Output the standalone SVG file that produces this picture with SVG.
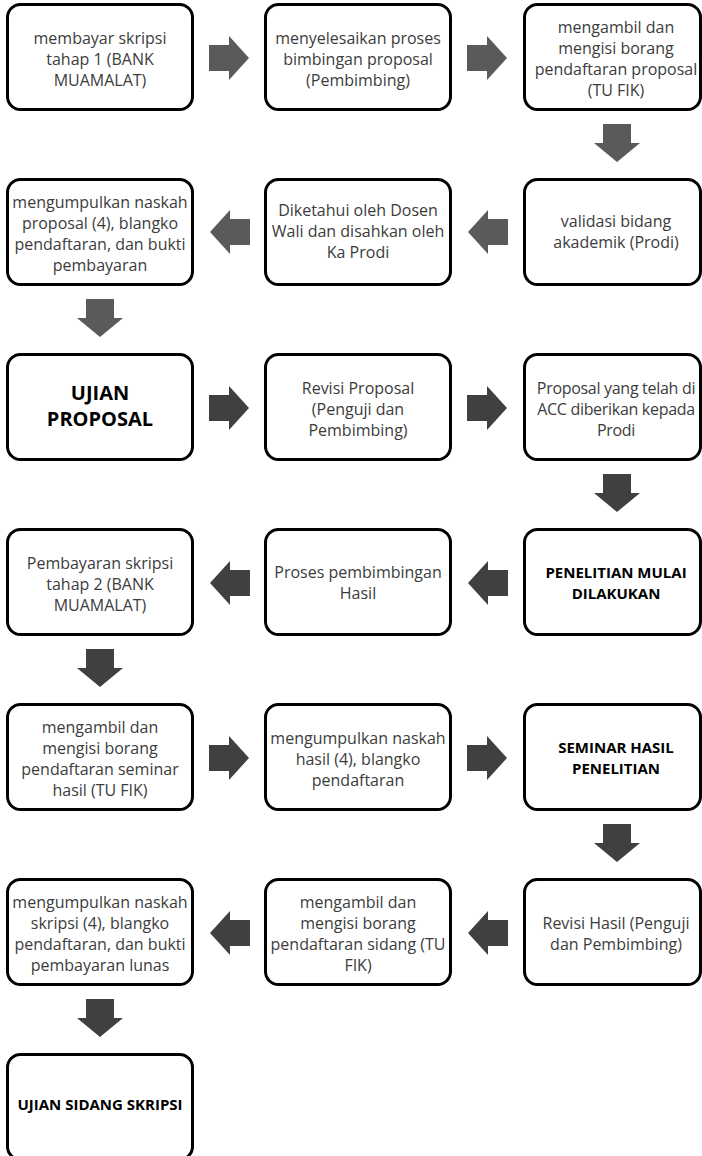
<svg xmlns="http://www.w3.org/2000/svg" xmlns:xlink="http://www.w3.org/1999/xlink" width="702" height="1156" viewBox="0 0 702 1156">
<style>
.box{fill:#fff;stroke:#000;stroke-width:3}
.t{font-family:"Open Sans","Liberation Sans",sans-serif;font-size:16px;fill:#3c3c3c;text-anchor:middle}
.b{font-family:"Open Sans","Liberation Sans",sans-serif;font-size:15px;font-weight:bold;fill:#000;text-anchor:middle}
.bb{font-family:"Open Sans","Liberation Sans",sans-serif;font-size:20px;font-weight:bold;fill:#000;text-anchor:middle}
.tight{letter-spacing:-0.3px}
.a1{fill:#5a5a5a}
.a2{fill:#404040}
</style>
<defs>
<path id="ar" d="M-20,-13 H0 V-22 L20,0 L0,22 V13 H-20 Z"/>
<path id="al" d="M20,-13 H0 V-22 L-20,0 L0,22 V13 H20 Z"/>
<path id="ad" d="M-14,-19 H14 V0 H23 L0,19 L-23,0 H-14 Z"/>
</defs>
<g id="connectors">
<use xlink:href="#ar" class="a1" x="229" y="58"/>
<use xlink:href="#ar" class="a1" x="487" y="58"/>
<use xlink:href="#ad" class="a1" x="617" y="143"/>
<use xlink:href="#al" class="a1" x="230" y="232"/>
<use xlink:href="#al" class="a1" x="488" y="232"/>
<use xlink:href="#ad" class="a1" x="100" y="318"/>
<use xlink:href="#ar" class="a2" x="229" y="408"/>
<use xlink:href="#ar" class="a2" x="487" y="408"/>
<use xlink:href="#ad" class="a2" x="617" y="493"/>
<use xlink:href="#al" class="a2" x="230" y="583"/>
<use xlink:href="#al" class="a2" x="488" y="583"/>
<use xlink:href="#ad" class="a2" x="100" y="668"/>
<use xlink:href="#ar" class="a2" x="229" y="758"/>
<use xlink:href="#ar" class="a2" x="487" y="758"/>
<use xlink:href="#ad" class="a2" x="617" y="843"/>
<use xlink:href="#al" class="a2" x="230" y="933"/>
<use xlink:href="#al" class="a2" x="488" y="933"/>
<use xlink:href="#ad" class="a2" x="100" y="1018"/>
</g>
<g id="n1"><rect class="box" x="7.5" y="4.5" width="185" height="105" rx="13"/>
<text class="t"><tspan x="100" y="43.5">membayar skripsi</tspan><tspan x="100" y="64.5">tahap 1 (BANK</tspan><tspan x="100" y="85.5">MUAMALAT)</tspan></text></g>
<g id="n2"><rect class="box" x="265.5" y="4.5" width="185" height="105" rx="13"/>
<text class="t"><tspan x="358" y="43.5">menyelesaikan proses</tspan><tspan x="358" y="64.5">bimbingan proposal</tspan><tspan x="358" y="85.5">(Pembimbing)</tspan></text></g>
<g id="n3"><rect class="box" x="524.5" y="4.5" width="176" height="105" rx="13"/>
<text class="t"><tspan x="616" y="33">mengambil dan</tspan><tspan x="616" y="54">mengisi borang</tspan><tspan x="616" y="75">pendaftaran proposal</tspan><tspan x="616" y="96">(TU FIK)</tspan></text></g>
<g id="n4"><rect class="box" x="7.5" y="179.5" width="185" height="105" rx="13"/>
<text class="t"><tspan x="100" y="208">mengumpulkan naskah</tspan><tspan x="100" y="229">proposal (4), blangko</tspan><tspan x="100" y="250">pendaftaran, dan bukti</tspan><tspan x="100" y="271">pembayaran</tspan></text></g>
<g id="n5"><rect class="box" x="265.5" y="179.5" width="185" height="105" rx="13"/>
<text class="t"><tspan x="358" y="216">Diketahui oleh Dosen</tspan><tspan x="358" y="237">Wali dan disahkan oleh</tspan><tspan x="358" y="258">Ka Prodi</tspan></text></g>
<g id="n6"><rect class="box" x="524.5" y="179.5" width="176" height="105" rx="13"/>
<text class="t"><tspan x="616" y="227">validasi bidang</tspan><tspan x="616" y="248">akademik (Prodi)</tspan></text></g>
<g id="n7"><rect class="box" x="7.5" y="354.5" width="185" height="105" rx="13"/>
<text class="bb"><tspan x="100" y="400">UJIAN</tspan><tspan x="100" y="426">PROPOSAL</tspan></text></g>
<g id="n8"><rect class="box" x="265.5" y="354.5" width="185" height="105" rx="13"/>
<text class="t"><tspan x="358" y="393.5">Revisi Proposal</tspan><tspan x="358" y="414.5">(Penguji dan</tspan><tspan x="358" y="435.5">Pembimbing)</tspan></text></g>
<g id="n9"><rect class="box" x="524.5" y="354.5" width="176" height="105" rx="13"/>
<text class="t tight"><tspan x="616" y="393.5">Proposal yang telah di</tspan><tspan x="616" y="414.5">ACC diberikan kepada</tspan><tspan x="616" y="435.5">Prodi</tspan></text></g>
<g id="n10"><rect class="box" x="7.5" y="529.5" width="185" height="105" rx="13"/>
<text class="t"><tspan x="100" y="568.5">Pembayaran skripsi</tspan><tspan x="100" y="589.5">tahap 2 (BANK</tspan><tspan x="100" y="610.5">MUAMALAT)</tspan></text></g>
<g id="n11"><rect class="box" x="265.5" y="529.5" width="185" height="105" rx="13"/>
<text class="t"><tspan x="358" y="578">Proses pembimbingan</tspan><tspan x="358" y="599">Hasil</tspan></text></g>
<g id="n12"><rect class="box" x="524.5" y="529.5" width="176" height="105" rx="13"/>
<text class="b"><tspan x="616" y="578">PENELITIAN MULAI</tspan><tspan x="616" y="599">DILAKUKAN</tspan></text></g>
<g id="n13"><rect class="box" x="7.5" y="704.5" width="185" height="105" rx="13"/>
<text class="t"><tspan x="100" y="733">mengambil dan</tspan><tspan x="100" y="754">mengisi borang</tspan><tspan x="100" y="775">pendaftaran seminar</tspan><tspan x="100" y="796">hasil (TU FIK)</tspan></text></g>
<g id="n14"><rect class="box" x="265.5" y="704.5" width="185" height="105" rx="13"/>
<text class="t"><tspan x="358" y="743.5">mengumpulkan naskah</tspan><tspan x="358" y="764.5">hasil (4), blangko</tspan><tspan x="358" y="785.5">pendaftaran</tspan></text></g>
<g id="n15"><rect class="box" x="524.5" y="704.5" width="176" height="105" rx="13"/>
<text class="b"><tspan x="616" y="752.5">SEMINAR HASIL</tspan><tspan x="616" y="773.5">PENELITIAN</tspan></text></g>
<g id="n16"><rect class="box" x="7.5" y="879.5" width="185" height="105" rx="13"/>
<text class="t"><tspan x="100" y="908">mengumpulkan naskah</tspan><tspan x="100" y="929">skripsi (4), blangko</tspan><tspan x="100" y="950">pendaftaran, dan bukti</tspan><tspan x="100" y="971">pembayaran lunas</tspan></text></g>
<g id="n17"><rect class="box" x="265.5" y="879.5" width="185" height="105" rx="13"/>
<text class="t"><tspan x="358" y="908">mengambil dan</tspan><tspan x="358" y="929">mengisi borang</tspan><tspan x="358" y="950">pendaftaran sidang (TU</tspan><tspan x="358" y="971">FIK)</tspan></text></g>
<g id="n18"><rect class="box" x="524.5" y="879.5" width="176" height="105" rx="13"/>
<text class="t"><tspan x="616" y="929">Revisi Hasil (Penguji</tspan><tspan x="616" y="950">dan Pembimbing)</tspan></text></g>
<g id="n19"><rect class="box" x="7.5" y="1054.5" width="185" height="105" rx="13"/>
<text class="b"><tspan x="100" y="1110">UJIAN SIDANG SKRIPSI</tspan></text></g>
</svg>
